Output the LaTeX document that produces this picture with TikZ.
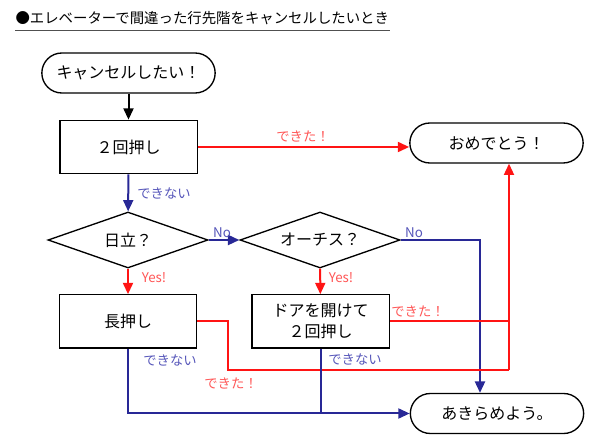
\documentclass[tikz,border=0pt]{standalone}
\usepackage{fontspec}
\setmainfont{Noto Sans CJK JP}
\usetikzlibrary{arrows.meta,shapes.geometric}

\definecolor{okred}{RGB}{255,20,20}
\definecolor{oklabel}{RGB}{255,85,85}
\definecolor{ngblue}{RGB}{40,40,150}
\definecolor{nglabel}{RGB}{85,85,185}

\tikzset{every picture/.style={line width=0.75pt}}

\begin{document}
\begin{tikzpicture}[x=0.75pt,y=0.75pt,yscale=-1,xscale=1,
    boxtext/.style={font=\fontsize{12}{15.5}\selectfont},
    term/.style={draw, boxtext, line width=1pt, rounded corners=15pt, minimum width=130pt, minimum height=30pt},
    procbox/.style={draw, boxtext, line width=1pt, minimum width=103pt, minimum height=40pt, align=center},
    decide/.style={draw, boxtext, diamond, aspect=2.9, line width=1pt, inner sep=0pt, minimum width=120pt, minimum height=42pt},
    tip/.style={-{Triangle[length=8.5pt,width=7.5pt]}},
    okline/.style={draw=okred, line width=1.5pt},
    ngline/.style={draw=ngblue, line width=1.5pt},
    oktext/.style={text=oklabel, inner sep=0.75pt, font=\fontsize{10}{12}\selectfont},
    ngtext/.style={text=nglabel, inner sep=0.75pt, font=\fontsize{10}{12}\selectfont}]
    \useasboundingbox (0,0) rectangle (590,442);

    % title
    \node [anchor=west, inner sep=0pt, font=\fontsize{10.8}{13}\selectfont] (title) at (15,18) {●エレベーターで間違った行先階をキャンセルしたいとき};
    \draw [color={rgb, 255:red, 80; green, 80; blue, 80 }, line width=1pt] (15,30.5) -- (390,30.5) ;

    % nodes
    \node [term] (start) at (128.5,73) {キャンセルしたい！};
    \node [procbox] (twice) at (128.5,147) {２回押し};
    \node [term] (congrats) at (496.5,143) {おめでとう！};
    \node [decide] (hitachi) at (128,240) {日立？};
    \node [decide] (otis) at (320,240) {オーチス？};
    \node [procbox] (longpress) at (128,321.5) {長押し};
    \node [procbox] (dooropen) at (320.5,321.5) {ドアを開けて\\２回押し};
    \node [term] (giveup) at (497,413.5) {あきらめよう。};

    % bends
    \coordinate (nodrop) at (480,240);
    \coordinate (okbendA) at (228,321.5);
    \coordinate (okbendB) at (228,370);
    \coordinate (okjoin) at (509,370);

    % connectors
    \draw [tip, line width=1.5pt] (start) -- (twice) ;
    \draw [okline, tip] (twice.east) -- (twice.east -| congrats.west) ;
    \draw [ngline, tip] (twice) -- (hitachi) ;
    \draw [ngline, tip] (hitachi) -- (otis) ;
    \draw [ngline, tip] (otis.east) -- (nodrop) -- (nodrop |- giveup.north) ;
    \draw [okline, tip] (hitachi) -- (longpress) ;
    \draw [okline, tip] (otis) -- (dooropen) ;
    \draw [okline] (longpress.east) -- (okbendA) -- (okbendB) -- (okjoin) ;
    \draw [okline, tip] (okjoin) -- (okjoin |- congrats.south) ;
    \draw [okline] (dooropen.east) -- (dooropen.east -| okjoin) ;
    \draw [ngline, tip] (longpress.south) |- (giveup.west) ;
    \draw [ngline] (dooropen.south) -- (dooropen.south |- giveup.west) ;

    % labels
    \node [oktext] (okA) at (303,137) {できた！};
    \node [ngtext] (ngA) at (164,193) {できない};
    \node [ngtext] (noA) at (222,233) {No};
    \node [ngtext] (noB) at (414,233) {No};
    \node [oktext] (yesA) at (154,278) {Yes!};
    \node [oktext] (yesB) at (341,278) {Yes!};
    \node [oktext] (okB) at (418,312) {できた！};
    \node [ngtext] (ngB) at (170,360) {できない};
    \node [ngtext] (ngC) at (355,359) {できない};
    \node [oktext] (okC) at (231,383) {できた！};

\end{tikzpicture}
\end{document}
